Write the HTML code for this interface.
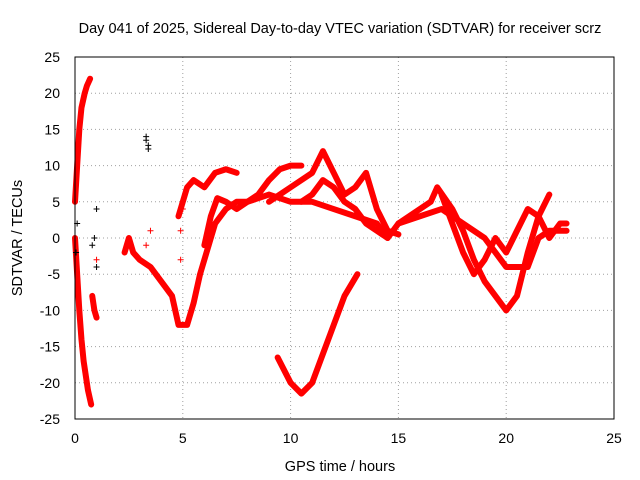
<!DOCTYPE html>
<html><head><meta charset="utf-8"><style>
body{margin:0;background:#fff;}
svg{display:block;font-family:"Liberation Sans",sans-serif;}
</style></head><body>
<svg id="chart" width="640" height="480">
<text x="340" y="33" font-size="14.5" text-anchor="middle">Day 041 of 2025, Sidereal Day-to-day VTEC variation (SDTVAR) for receiver scrz</text>
<text x="340" y="471" font-size="14.5" text-anchor="middle">GPS time / hours</text>
<text x="22" y="238" font-size="14.5" text-anchor="middle" transform="rotate(-90 22 238)">SDTVAR / TECUs</text>
<g id="grid"></g><g id="ticks"></g><g id="marks"></g>
<rect x="75" y="57" width="539" height="362" fill="none" stroke="#000" stroke-width="1"/>
</svg>
<script>
const xTicks=[0,5,10,15,20,25];
const yTicks=[-25,-20,-15,-10,-5,0,5,10,15,20,25];
const traceA1=[[0.0,5],[0.1,10],[0.2,15],[0.3,18],[0.45,20],[0.55,21],[0.7,22]];
const traceA2=[[0.0,0],[0.1,-5],[0.2,-10],[0.3,-14],[0.4,-17],[0.5,-19],[0.6,-21],[0.75,-23]];
const traceA3=[[0.8,-8],[0.9,-10],[1.0,-11]];
const traceB=[[2.3,-2],[2.5,0],[2.7,-2],[3.0,-3],[3.5,-4],[4.0,-6],[4.5,-8],[4.8,-12],[5.2,-12],[5.5,-9],[5.8,-5],[6.2,-1],[6.5,2],[7.0,4],[7.5,5],[8.0,5],[9.0,6],[10.0,5],[11.0,5],[12.0,4],[13.0,3],[14.0,2],[14.5,0],[15.0,2],[16.0,3],[17.0,4],[17.5,3],[18.5,1],[19.0,0],[20.0,-4],[21.0,-4],[21.5,0],[22.0,1],[22.8,1]];
const traceD=[[4.8,3],[5.2,7],[5.5,8],[6.0,7],[6.5,9],[7.0,9.5],[7.5,9]];
const traceE=[[6.0,-1],[6.3,3],[6.6,5.5],[7.0,5],[7.5,4],[8.0,5],[8.5,6],[9.0,8],[9.5,9.5],[10.0,10],[10.5,10]];
const traceF=[[9.0,5],[10.0,7],[11.0,9],[11.5,12],[12.0,9],[12.5,6],[13.0,7],[13.5,9],[14.0,4],[14.5,1],[15.0,0.5]];
const traceF2=[[10.5,5],[11.0,6],[11.5,8],[12.0,7],[12.5,5],[13.0,4],[13.5,2],[14.0,1],[14.5,0]];
const traceG=[[9.4,-16.5],[10.0,-20],[10.5,-21.5],[11.0,-20],[11.5,-16],[12.0,-12],[12.5,-8],[13.1,-5]];
const traceH=[[15.0,2],[15.5,3],[16.0,4],[16.5,5],[16.8,7],[17.5,4],[18.0,1],[18.5,-3],[19.0,-6],[19.5,-8],[20.0,-10],[20.5,-8],[21.0,-2],[21.5,3],[22.0,6]];
const traceI=[[17.0,6],[17.5,2],[18.0,-2],[18.5,-5],[19.0,-3],[19.5,0],[20.0,-2],[20.5,1],[21.0,4],[21.5,3],[22.0,0],[22.5,2],[22.8,2]];
const redPts=[[3.3,-1],[4.9,1],[4.9,-3],[5.0,4],[3.5,1],[1.0,-3]];
const blackPts=[[3.3,14],[3.3,13.5],[3.4,12.8],[3.4,12.3],[1.0,4],[0.9,0],[1.0,-4],[0.8,-1],[0.05,-2],[0.1,2]];
const X0=75,X1=614,Y0=419,Y1=57;
const sx=t=>X0+(t-0)/25*(X1-X0);
const sy=v=>Y0-(v+25)/50*(Y0-Y1);
const NS='http://www.w3.org/2000/svg';
const grid=document.getElementById('grid'),ticks=document.getElementById('ticks'),marks=document.getElementById('marks');
function mk(tag,attrs,parent){const e=document.createElementNS(NS,tag);for(const k in attrs)e.setAttribute(k,attrs[k]);parent.appendChild(e);return e;}
xTicks.forEach(t=>{
 const x=sx(t);
 if(t>0&&t<25){const g=mk('line',{x1:x,x2:x,y1:Y1,y2:Y0,stroke:'#a0a0a0','stroke-dasharray':'1,3'},grid);
 
 }
 const lb=mk('text',{x:x,y:443,'font-size':14,'text-anchor':'middle'},ticks);lb.textContent=t;
 
 
});
yTicks.forEach(v=>{
 const y=sy(v);
 if(v>-25&&v<25){const g=mk('line',{x1:X0,x2:X1,y1:y,y2:y,stroke:'#a0a0a0','stroke-dasharray':'1,3'},grid);
 
 }
 const lb=mk('text',{x:60,y:y+5,'font-size':14,'text-anchor':'end'},ticks);lb.textContent=v;
 
 
});
const traces=[traceA1,traceA2,traceA3,traceB,traceD,traceE,traceF,traceF2,traceG,traceH,traceI];
traces.forEach((tr,i)=>{
 const p=mk('polyline',{points:tr.map(d=>sx(d[0])+','+sy(d[1])).join(' '),fill:'none',stroke:'#ff0000','stroke-width':6,'stroke-linejoin':'round','stroke-linecap':'round'},marks);
 
 
});
function plus(d,color,name){
 const x=sx(d[0]),y=sy(d[1]);
 const p=mk('path',{d:`M${x-3},${y}H${x+3}M${x},${y-3}V${y+3}`,stroke:color,'stroke-width':1},marks);
 
 
}
redPts.forEach(d=>plus(d,'#ff0000','red-point'));
blackPts.forEach(d=>plus(d,'#000','black-point'));
</script>
</body></html>
